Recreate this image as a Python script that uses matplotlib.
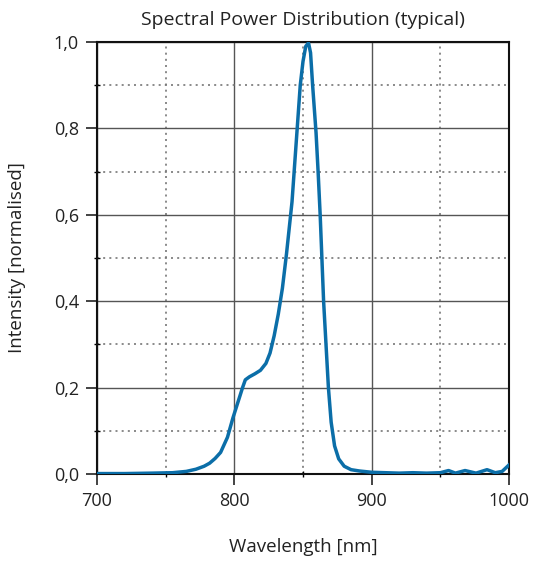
import matplotlib
matplotlib.use("Agg")
import matplotlib.pyplot as plt
from matplotlib.ticker import MultipleLocator, FuncFormatter

plt.rcParams['font.family'] = ['Open Sans', 'DejaVu Sans']

# spectrum
wavelength = [700, 720, 740, 755, 765, 772, 778, 782, 786, 790, 795, 799, 803, 806, 808,
              811, 815, 819, 823, 826, 829, 832, 835, 838, 842, 844, 846, 848, 850,
              852, 854, 855.5, 857, 859.5, 861, 862.5, 865, 868.5, 870.5, 873, 876,
              880, 885, 891, 900, 910, 920, 930, 940, 950, 956, 961, 968, 976, 984,
              990, 995, 1000]
intensity = [0.001, 0.001, 0.002, 0.003, 0.006, 0.011, 0.018, 0.025, 0.036, 0.05, 0.085,
             0.13, 0.17, 0.2, 0.218, 0.225, 0.232, 0.24, 0.256, 0.28, 0.32, 0.37, 0.43,
             0.51, 0.63, 0.72, 0.81, 0.9, 0.955, 0.99, 0.998, 0.975, 0.9, 0.79, 0.7, 0.6,
             0.4, 0.2, 0.12, 0.065, 0.035, 0.018, 0.01, 0.007, 0.004, 0.003, 0.002, 0.003,
             0.002, 0.003, 0.008, 0.002, 0.008, 0.002, 0.01, 0.003, 0.006, 0.021]

fig = plt.figure(figsize=(5.33, 5.61), dpi=100)
ax = fig.add_axes([97/533, 1-474/561, 412/533, 432/561])

ax.plot(wavelength, intensity, color='#0b6ea8', linewidth=2.5, zorder=3)

ax.set_xlim(700, 1000)
ax.set_ylim(0, 1.0)
ax.xaxis.set_major_locator(MultipleLocator(100))
ax.xaxis.set_minor_locator(MultipleLocator(50))
ax.yaxis.set_major_locator(MultipleLocator(0.2))
ax.yaxis.set_minor_locator(MultipleLocator(0.1))
ax.yaxis.set_major_formatter(FuncFormatter(lambda v, p: f"{v:.1f}".replace('.', ',')))

ax.grid(which='major', color='#555555', linewidth=1.0, linestyle='-')
ax.grid(which='minor', color='#777777', linewidth=1.2, linestyle=(0, (1.2, 2.5)))
ax.set_axisbelow(True)

ax.tick_params(which='major', direction='out', length=8, width=1.2, labelsize=13,
               colors='#222222', pad=5)
ax.tick_params(which='minor', direction='inout', length=5, width=1.0)
for s in ax.spines.values():
    s.set_linewidth(1.5)
    s.set_color('#111111')

ax.set_title('Spectral Power Distribution (typical)', fontsize=14, color='#222222', pad=12)
ax.set_xlabel('Wavelength [nm]', fontsize=13.5, color='#222222', labelpad=20)
ax.set_ylabel('Intensity [normalised]', fontsize=13.5, color='#222222', labelpad=20)

fig.savefig('out.png', dpi=100)
